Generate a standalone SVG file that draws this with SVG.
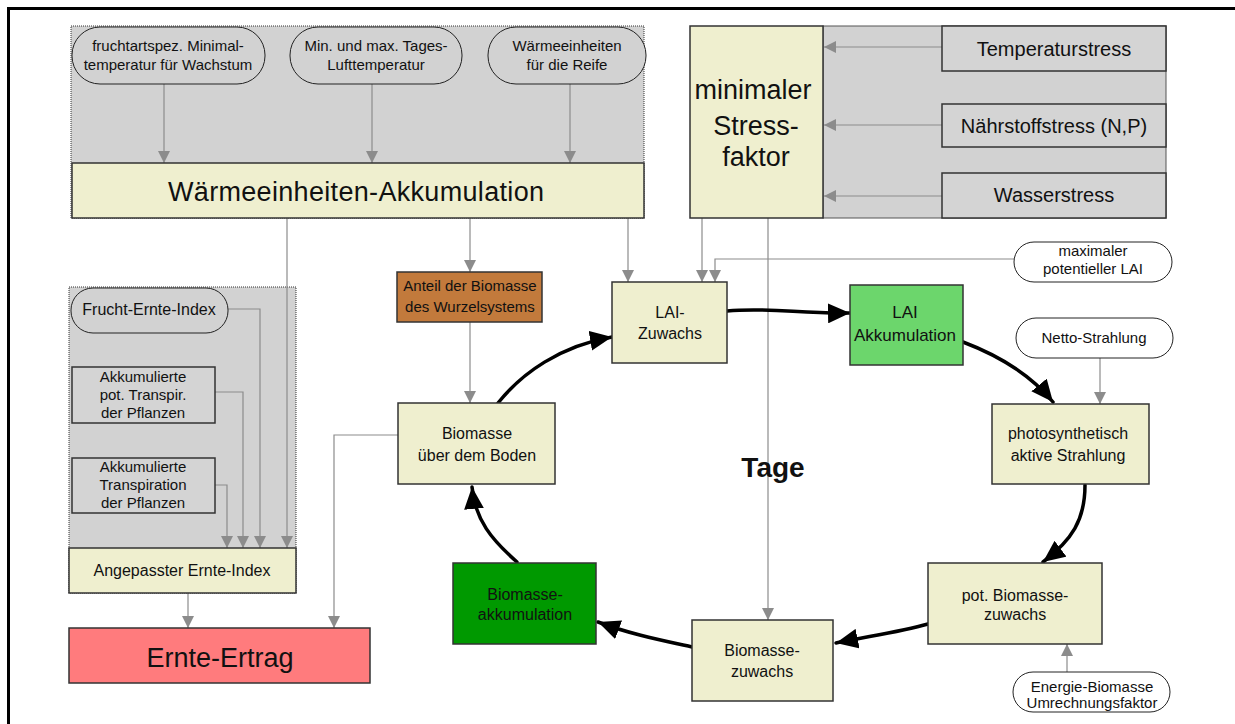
<svg xmlns="http://www.w3.org/2000/svg" width="1235" height="724" viewBox="0 0 1235 724">
  <style>
    text { font-family: "Liberation Sans", Arial, sans-serif; fill: #111; text-anchor: middle; }
    .panel { fill: #d2d2d2; stroke: #333; stroke-width: 1; stroke-dasharray: 1 1; }
    .box { fill: #efefcf; stroke: #333; stroke-width: 1.5; }
    .gbox { fill: #d4d4d4; stroke: #333; stroke-width: 1.5; }
    .pill { fill: #d2d2d2; stroke: #222; stroke-width: 1; }
    .wpill { fill: #ffffff; stroke: #222; stroke-width: 1; }
    .t15 { font-size: 15px; }
    .t16 { font-size: 16px; }
    .t17 { font-size: 17px; }
    .t20 { font-size: 20px; }
    .big { font-size: 27px; }
    .gl { fill: none; stroke: #8c8c8c; stroke-width: 1.2; marker-end: url(#ga); }
    .bl { fill: none; stroke: #000; stroke-width: 3.5; stroke-linecap: round; marker-end: url(#ba); }
  </style>
  <defs>
    <marker id="ga" markerUnits="userSpaceOnUse" markerWidth="12" markerHeight="12" refX="10" refY="5" orient="auto" viewBox="0 0 10 10">
      <path d="M0,0 L10,5 L0,10 z" fill="#8c8c8c"/>
    </marker>
    <marker id="ba" markerUnits="userSpaceOnUse" markerWidth="22" markerHeight="20" refX="20" refY="9" orient="auto" viewBox="0 0 20 18">
      <path d="M0,0 L20,9 L0,18 z" fill="#000"/>
    </marker>
  </defs>

  <rect x="0" y="0" width="1235" height="724" fill="#ffffff"/>
  <!-- frame -->
  <path d="M8.5,724 V8.5 H1235" fill="none" stroke="#000" stroke-width="3"/>

  <!-- background panels -->
  <rect class="panel" x="71" y="26" width="573" height="192"/>
  <rect x="823" y="26" width="343" height="192" fill="#d2d2d2" stroke="#555" stroke-width="1"/>
  <rect class="panel" x="69" y="287" width="227" height="306"/>

  <g id="connectors">
    <!-- heat unit inputs -->
    <path class="gl" d="M164,84 V163"/>
    <path class="gl" d="M372,84 V163"/>
    <path class="gl" d="M570,84 V163"/>
    <!-- from heat accumulation -->
    <path class="gl" d="M287,218 V548"/>
    <path class="gl" d="M470,218 V272"/>
    <path class="gl" d="M628,218 V282"/>
    <!-- root share to above-ground biomass -->
    <path class="gl" d="M470,322 V403"/>
    <!-- stress factor -->
    <path class="gl" d="M702,218 V282"/>
    <path class="gl" d="M768,218 V620"/>
    <path class="gl" d="M942,47 H824"/>
    <path class="gl" d="M942,125 H824"/>
    <path class="gl" d="M942,196 H824"/>
    <!-- max LAI -->
    <path class="gl" d="M1014,259 H715 V282"/>
    <!-- radiation and conversion -->
    <path class="gl" d="M1100,358 V404"/>
    <path class="gl" d="M1067,672 V644"/>
    <!-- harvest index inputs -->
    <path class="gl" d="M228,309 H260 V548"/>
    <path class="gl" d="M215,392 H243 V548"/>
    <path class="gl" d="M215,485 H227 V548"/>
    <path class="gl" d="M188,593 V628"/>
    <path class="gl" d="M398,435 H334 V628"/>

    <!-- daily growth cycle -->
    <path class="bl" d="M498,403 C522,373 560,346 612,337"/>
    <path class="bl" d="M727,311 C770,307 800,314 850,313"/>
    <path class="bl" d="M963,342 C1000,356 1030,374 1053,402"/>
    <path class="bl" d="M1085,485 C1085,520 1072,540 1043,562"/>
    <path class="bl" d="M928,624 C900,632 870,636 836,643"/>
    <path class="bl" d="M692,647 C660,640 630,634 598,622"/>
    <path class="bl" d="M517,562 C492,540 475,520 472,487"/>
  </g>

  <g id="min-temp">
    <rect class="pill" x="72" y="27" width="193" height="57" rx="28"/>
    <text class="t15" x="168" y="51">fruchtartspez. Minimal-</text>
    <text class="t15" x="168" y="70">temperatur für Wachstum</text>
  </g>
  <g id="air-temp">
    <rect class="pill" x="290" y="27" width="172" height="57" rx="28"/>
    <text class="t15" x="376" y="51">Min. und max. Tages-</text>
    <text class="t15" x="376" y="70">Lufttemperatur</text>
  </g>
  <g id="heat-maturity">
    <rect class="pill" x="488" y="27" width="158" height="57" rx="28"/>
    <text class="t15" x="567" y="51">Wärmeeinheiten</text>
    <text class="t15" x="567" y="70">für die Reife</text>
  </g>
  <g id="heat-accumulation">
    <rect class="box" x="72" y="163" width="572" height="55"/>
    <text class="big" x="356" y="201" font-size="26" textLength="376" lengthAdjust="spacing">Wärmeeinheiten-Akkumulation</text>
  </g>

  <g id="stress-factor">
    <rect class="box" x="690" y="26" width="133" height="192"/>
    <text class="big" x="753" y="99">minimaler</text>
    <text class="big" x="756" y="135">Stress-</text>
    <text class="big" x="756" y="166">faktor</text>
  </g>
  <g id="temp-stress">
    <rect class="gbox" x="942" y="26" width="224" height="45"/>
    <text class="t20" x="1054" y="56">Temperaturstress</text>
  </g>
  <g id="nutrient-stress">
    <rect class="gbox" x="942" y="104" width="224" height="43"/>
    <text class="t20" x="1054" y="133">Nährstoffstress (N,P)</text>
  </g>
  <g id="water-stress">
    <rect class="gbox" x="942" y="173" width="224" height="45"/>
    <text class="t20" x="1054" y="202">Wasserstress</text>
  </g>

  <g id="max-lai">
    <rect class="wpill" x="1014" y="242" width="158" height="40" rx="20"/>
    <text class="t15" x="1093" y="256">maximaler</text>
    <text class="t15" x="1093" y="274">potentieller LAI</text>
  </g>
  <g id="net-radiation">
    <rect class="wpill" x="1016" y="318" width="157" height="40" rx="20"/>
    <text class="t15" x="1094" y="343">Netto-Strahlung</text>
  </g>

  <g id="root-share">
    <rect x="397" y="272" width="145" height="50" fill="#c27a3c" stroke="#333" stroke-width="1.5"/>
    <text class="t15" x="470" y="291">Anteil der Biomasse</text>
    <text class="t15" x="470" y="312">des Wurzelsystems</text>
  </g>
  <g id="lai-growth">
    <rect class="box" x="612" y="282" width="115" height="81"/>
    <text class="t16" x="670" y="318">LAI-</text>
    <text class="t16" x="670" y="339">Zuwachs</text>
  </g>
  <g id="lai-accumulation">
    <rect x="850" y="285" width="113" height="80" fill="#6cd66c" stroke="#333" stroke-width="1.5"/>
    <text class="t17" x="905" y="318">LAI</text>
    <text class="t17" x="905" y="341">Akkumulation</text>
  </g>
  <g id="par">
    <rect class="box" x="992" y="404" width="157" height="80"/>
    <text class="t16" x="1068" y="439">photosynthetisch</text>
    <text class="t16" x="1068" y="461">aktive Strahlung</text>
  </g>
  <g id="pot-biomass">
    <rect class="box" x="928" y="563" width="174" height="81"/>
    <text class="t16" x="1015" y="601">pot. Biomasse-</text>
    <text class="t16" x="1015" y="620">zuwachs</text>
  </g>
  <g id="energy-conversion">
    <rect class="wpill" x="1013" y="672" width="157" height="40" rx="20"/>
    <text class="t15" x="1092" y="692">Energie-Biomasse</text>
    <text class="t15" x="1092" y="708">Umrechnungsfaktor</text>
  </g>
  <g id="biomass-growth">
    <rect class="box" x="692" y="620" width="141" height="81"/>
    <text class="t16" x="762" y="656">Biomasse-</text>
    <text class="t16" x="762" y="677">zuwachs</text>
  </g>
  <g id="biomass-accumulation">
    <rect x="453" y="563" width="143" height="81" fill="#009900" stroke="#333" stroke-width="1.5"/>
    <text class="t16" x="525" y="600">Biomasse-</text>
    <text class="t16" x="525" y="620">akkumulation</text>
  </g>
  <g id="above-ground">
    <rect class="box" x="398" y="403" width="157" height="81"/>
    <text class="t16" x="477" y="439">Biomasse</text>
    <text class="t16" x="477" y="461">über dem Boden</text>
  </g>
  <g id="days">
    <text x="773" y="477" font-size="28" font-weight="bold">Tage</text>
  </g>

  <g id="fruit-harvest-index">
    <rect class="pill" x="71" y="288" width="157" height="45" rx="22"/>
    <text class="t16" x="149" y="315">Frucht-Ernte-Index</text>
  </g>
  <g id="acc-pot-transpiration">
    <rect class="gbox" x="72" y="367" width="143" height="56"/>
    <text class="t15" x="143" y="382">Akkumulierte</text>
    <text class="t15" x="143" y="400">pot. Transpir.</text>
    <text class="t15" x="143" y="418">der Pflanzen</text>
  </g>
  <g id="acc-transpiration">
    <rect class="gbox" x="72" y="458" width="143" height="55"/>
    <text class="t15" x="143" y="472">Akkumulierte</text>
    <text class="t15" x="143" y="490">Transpiration</text>
    <text class="t15" x="143" y="508">der Pflanzen</text>
  </g>
  <g id="adjusted-harvest-index">
    <rect class="box" x="69" y="548" width="227" height="45"/>
    <text class="t16" x="182" y="576">Angepasster Ernte-Index</text>
  </g>
  <g id="yield">
    <rect x="69" y="628" width="301" height="55" fill="#ff7b7d" stroke="#333" stroke-width="1.5"/>
    <text class="big" x="220" y="667">Ernte-Ertrag</text>
  </g>
</svg>
